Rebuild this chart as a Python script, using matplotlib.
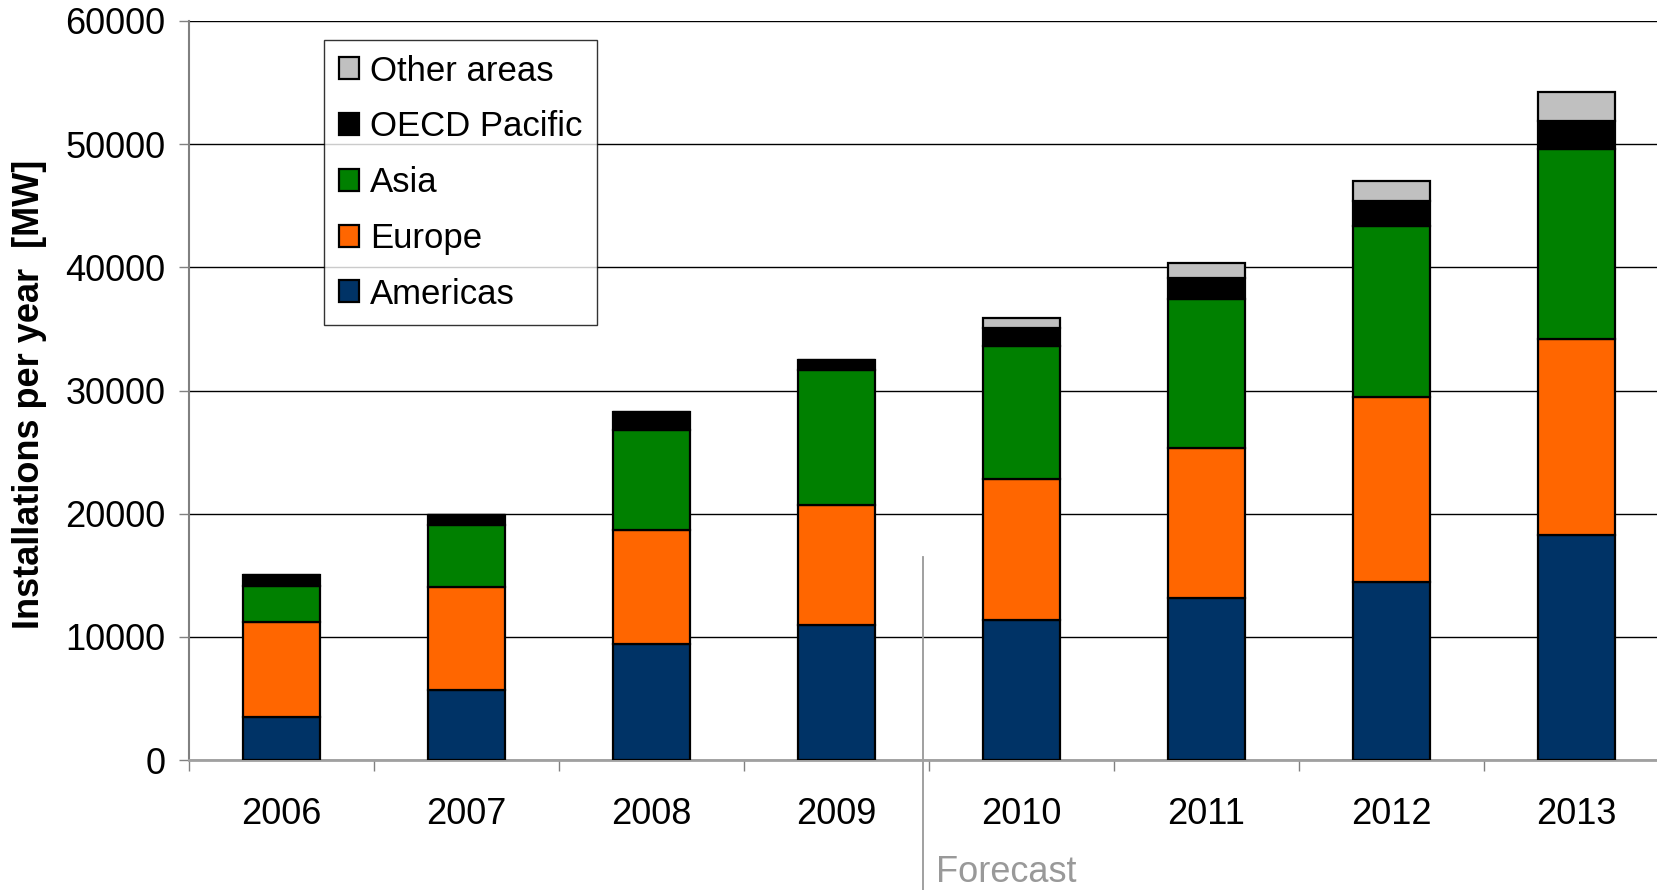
import matplotlib
matplotlib.use("Agg")
import matplotlib.pyplot as plt
import numpy as np

years = ["2006", "2007", "2008", "2009", "2010", "2011", "2012", "2013"]
americas = [3500, 5650, 9400, 10950, 11400, 13150, 14450, 18250]
europe = [7700, 8400, 9300, 9750, 11450, 12150, 15050, 15900]
asia = [2950, 5050, 8100, 10950, 10800, 12100, 13850, 15450]
oecd_pacific = [850, 800, 1450, 800, 1450, 1700, 2000, 2300]
other_areas = [0, 0, 0, 0, 800, 1250, 1650, 2350]

series_names = ["Americas", "Europe", "Asia", "OECD Pacific", "Other areas"]
series_colors = ["#003366", "#FF6600", "#008000", "#000000", "#C0C0C0"]
yticks = [0, 10000, 20000, 30000, 40000, 50000, 60000]

plt.rcParams['font.family'] = ['Liberation Sans', 'DejaVu Sans']
FS = 26

fig = plt.figure(figsize=(16.57, 8.9), dpi=100)
ax = fig.add_axes([189/1657, 130/890, 1480/1657, 739/890])

x = np.arange(len(years))
bottom = np.zeros(len(years))
handles = []
for name, vals, col in zip(series_names, [americas, europe, asia, oecd_pacific, other_areas], series_colors):
    vals = np.array(vals, dtype=float)
    b = ax.bar(x, vals, 0.42, bottom=bottom, color=col, edgecolor="black",
               linewidth=1.6, label=name, zorder=3)
    handles.append(b)
    bottom += vals

ax.set_xlim(-0.5, len(years) - 0.5)
ax.set_ylim(0, 60000)
ax.set_yticks(yticks)
ax.set_yticklabels([str(t) for t in yticks], fontsize=FS)
ax.yaxis.grid(True, color="black", linewidth=1.0, zorder=0)
ax.set_axisbelow(True)

ax.set_xticks(np.arange(-0.5, len(years) + 0.5, 1.0))
ax.set_xticklabels([])
ax.set_xticks(x, minor=True)
ax.set_xticklabels(years, minor=True, fontsize=FS)
ax.tick_params(axis="x", which="minor", length=0, pad=27)
ax.tick_params(axis="x", which="major", length=8, width=1, color="#808080", direction="out")
ax.tick_params(axis="y", length=7, width=1, color="#808080", pad=10)

for s in ["top", "right"]:
    ax.spines[s].set_visible(False)
ax.spines["left"].set_color("#808080")
ax.spines["left"].set_linewidth(1.5)
ax.spines["bottom"].set_color("#A0A0A0")
ax.spines["bottom"].set_linewidth(2)

ax.set_ylabel("Installations per year  [MW]", fontsize=FS, fontweight="bold")
ax.yaxis.set_label_coords(-0.096, 0.495)

# forecast separator
ax.plot([3.47, 3.47], [16500, -11000], color="#999999", linewidth=1.3, clip_on=False, zorder=1)
ax.text(3.54, -9100, "Forecast", color="#999999", fontsize=FS, va="center", ha="left")

leg = ax.legend(handles[::-1], series_names[::-1], loc="upper left",
                bbox_to_anchor=(324/1657, 1 - 40/890), bbox_transform=fig.transFigure,
                fontsize=25, frameon=True, fancybox=False, edgecolor="black",
                borderaxespad=0, handlelength=0.6, handleheight=0.6,
                handletextpad=0.3, labelspacing=0.655, borderpad=0.42)
leg.get_frame().set_linewidth(1.0)
leg.set_zorder(5)

fig.savefig("out.png", dpi=100)
